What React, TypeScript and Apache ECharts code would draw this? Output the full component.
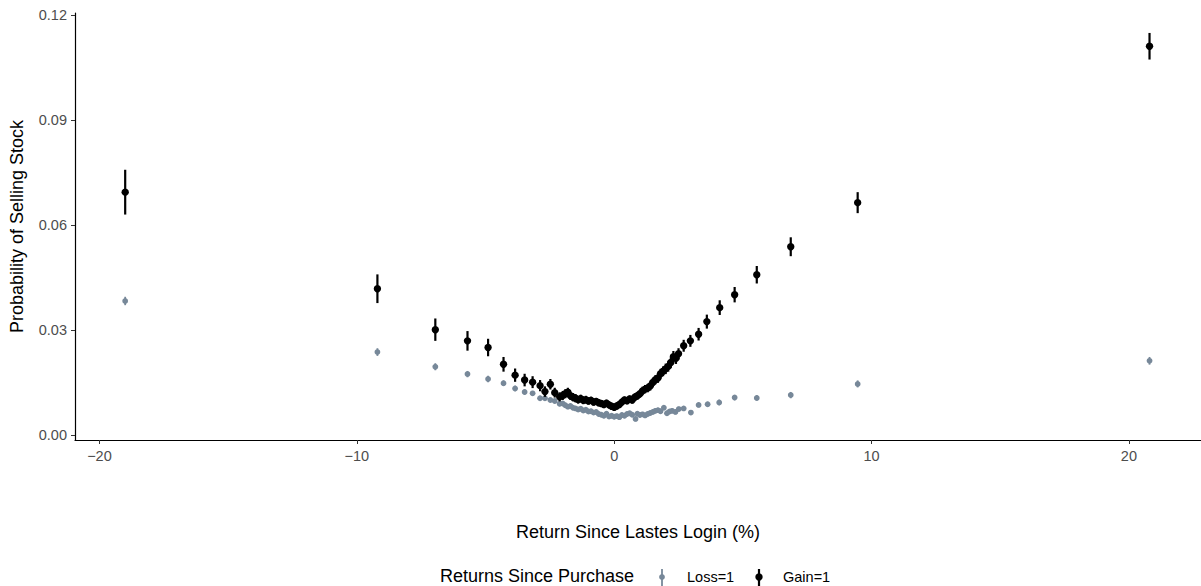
import React, { useEffect, useRef } from "react";
import * as echarts from "echarts";

// Gain=1 series: return since last login (%), probability of selling, half-width of error bar
const gainX = [-19.0, -9.2, -6.95, -5.7, -4.9, -4.3, -3.85, -3.48, -3.17, -2.88, -2.69, -2.48, -2.31, -2.12,
  -2.0, -1.9, -1.8, -1.7, -1.6, -1.5, -1.4, -1.3, -1.2, -1.1, -1.0, -0.9, -0.8, -0.7, -0.6, -0.5, -0.4, -0.3, -0.2, -0.1,
  0.0, 0.1, 0.2, 0.3, 0.4, 0.5, 0.6, 0.7, 0.8, 0.9, 1.0, 1.1, 1.2, 1.3, 1.4, 1.5, 1.6, 1.7, 1.8, 1.9, 2.0, 2.1, 2.2, 2.3, 2.4, 2.5,
  2.7, 2.96, 3.28, 3.6, 4.1, 4.68, 5.54, 6.86, 9.46, 20.8];
const gainY = [0.0694, 0.0418, 0.0301, 0.0269, 0.0250, 0.0202, 0.0171, 0.0157, 0.0151, 0.0141, 0.0124, 0.0145, 0.0121, 0.0109,
  0.0113, 0.0118, 0.0122, 0.0112, 0.0108, 0.0105, 0.0101, 0.0104, 0.0099, 0.0101, 0.0097, 0.0099, 0.0094, 0.0096, 0.0092, 0.0090, 0.0087, 0.0091, 0.0086, 0.0082,
  0.0079, 0.0083, 0.0087, 0.0094, 0.0100, 0.0098, 0.0103, 0.0100, 0.0108, 0.0112, 0.0118, 0.0126, 0.0131, 0.0134, 0.0140, 0.0150, 0.0158, 0.0163, 0.0175, 0.0182, 0.0189, 0.0196, 0.0207, 0.0224, 0.0219, 0.0232,
  0.0255, 0.0269, 0.0288, 0.0324, 0.0364, 0.0401, 0.0458, 0.0538, 0.0664, 0.1111];
const gainErr = [0.0064, 0.0041, 0.0032, 0.0028, 0.0025, 0.0021, 0.0019, 0.0018, 0.0017, 0.0016, 0.0015, 0.0015, 0.0014, 0.0013,
  0.0013, 0.0013, 0.0013, 0.0012, 0.0012, 0.0012, 0.0011, 0.0011, 0.0011, 0.0011, 0.0010, 0.0010, 0.0010, 0.0010, 0.0010, 0.0010, 0.0010, 0.0010, 0.0010, 0.0010,
  0.0010, 0.0010, 0.0010, 0.0010, 0.0010, 0.0010, 0.0010, 0.0010, 0.0011, 0.0011, 0.0011, 0.0012, 0.0012, 0.0012, 0.0013, 0.0013, 0.0013, 0.0014, 0.0014, 0.0014, 0.0015, 0.0015, 0.0015, 0.0016, 0.0016, 0.0016,
  0.0017, 0.0017, 0.0018, 0.0020, 0.0021, 0.0022, 0.0025, 0.0027, 0.0030, 0.0038];

// Loss=1 series
const lossX = [-19.0, -9.2, -6.95, -5.7, -4.9, -4.3, -3.85, -3.48, -3.17, -2.88, -2.69, -2.48, -2.31, -2.12,
  -2.0, -1.9, -1.8, -1.7, -1.6, -1.5, -1.4, -1.3, -1.2, -1.1, -1.0, -0.9, -0.8, -0.7, -0.6, -0.5, -0.4, -0.3, -0.2, -0.1,
  0.0, 0.1, 0.2, 0.3, 0.4, 0.5, 0.6, 0.7, 0.83, 0.9, 1.0, 1.1, 1.2, 1.3, 1.4, 1.5, 1.6, 1.7, 1.8, 1.93, 2.05, 2.15, 2.25, 2.38, 2.51,
  2.7, 2.98, 3.28, 3.63, 4.08, 4.68, 5.54, 6.86, 9.46, 20.8];
const lossY = [0.0383, 0.0237, 0.0195, 0.0174, 0.0160, 0.0148, 0.0133, 0.0123, 0.0119, 0.0105, 0.0105, 0.0100, 0.0097, 0.0089,
  0.0090, 0.0085, 0.0081, 0.0083, 0.0078, 0.0076, 0.0073, 0.0075, 0.0070, 0.0072, 0.0067, 0.0068, 0.0064, 0.0066, 0.0060, 0.0058, 0.0055, 0.0061, 0.0053, 0.0055,
  0.0052, 0.0054, 0.0051, 0.0057, 0.0055, 0.0060, 0.0062, 0.0058, 0.0046, 0.0061, 0.0057, 0.0059, 0.0056, 0.0060, 0.0063, 0.0066, 0.0069, 0.0071, 0.0068, 0.0078, 0.0062, 0.0067, 0.0069, 0.0066, 0.0074,
  0.0076, 0.0064, 0.0086, 0.0088, 0.0093, 0.0107, 0.0106, 0.0114, 0.0146, 0.0212];
const lossErr = [0.0012, 0.0011, 0.0010, 0.0009, 0.0009, 0.0008, 0.0008, 0.0008, 0.0007, 0.0007, 0.0007, 0.0007, 0.0007, 0.0007,
  0.0007, 0.0007, 0.0007, 0.0007, 0.0007, 0.0007, 0.0007, 0.0007, 0.0007, 0.0007, 0.0007, 0.0007, 0.0007, 0.0007, 0.0007, 0.0007, 0.0007, 0.0007, 0.0007, 0.0007,
  0.0007, 0.0007, 0.0007, 0.0007, 0.0007, 0.0007, 0.0007, 0.0007, 0.0007, 0.0007, 0.0007, 0.0007, 0.0007, 0.0007, 0.0007, 0.0007, 0.0007, 0.0007, 0.0007, 0.0007, 0.0007, 0.0007, 0.0007, 0.0007, 0.0007,
  0.0007, 0.0007, 0.0007, 0.0007, 0.0008, 0.0008, 0.0008, 0.0009, 0.0010, 0.0011];

const xTicks = [-20, -10, 0, 10, 20];
const yTicks = [0, 0.03, 0.06, 0.09, 0.12];

const FONT = "'Liberation Sans', Arial, Helvetica, sans-serif";
const LOSS_COLOR = "#778899";
const GAIN_COLOR = "#000000";

function rangeSeries(name: string, xs: number[], ys: number[], es: number[], color: string, r: number, lw: number) {
  const data = xs.map((x, i) => [x, ys[i], es[i]]);
  return {
    name,
    type: "custom",
    data,
    renderItem: (params: any, api: any) => {
      const x = api.value(0);
      const y = api.value(1);
      const e = api.value(2);
      const p = api.coord([x, y]);
      const top = api.coord([x, y + e]);
      const bot = api.coord([x, y - e]);
      return {
        type: "group",
        children: [
          {
            type: "line",
            shape: { x1: p[0], y1: top[1], x2: p[0], y2: bot[1] },
            style: { stroke: color, lineWidth: lw },
          },
          {
            type: "circle",
            shape: { cx: p[0], cy: p[1], r },
            style: { fill: color },
          },
        ],
      };
    },
  };
}

export default function App() {
  const ref = useRef<HTMLDivElement>(null);
  useEffect(() => {
    if (!ref.current) return;
    const chart = echarts.init(ref.current, undefined, { renderer: "svg" });
    const tickLabel = { color: "#4D4D4D", fontSize: 14.5, fontFamily: FONT };
    chart.setOption({
      animation: false,
      backgroundColor: "#ffffff",
      grid: { left: 70, right: 0, top: 13, bottom: 146, containLabel: false },
      xAxis: {
        type: "value",
        min: -20.95,
        max: 22.8,
        name: "Return Since Lastes Login (%)",
        nameLocation: "middle",
        nameGap: 83,
        nameTextStyle: { color: "#000", fontSize: 18, fontFamily: FONT },
        axisLine: { show: true, onZero: false, lineStyle: { color: "#000", width: 1.2 } },
        axisTick: { show: true, length: 4, lineStyle: { color: "#333" }, customValues: xTicks },
        axisLabel: {
          ...tickLabel,
          margin: 8,
          customValues: xTicks,
          formatter: (v: number) => (v < 0 ? "\u2212" + Math.abs(v) : String(v)),
        },
        splitLine: { show: false },
      },
      yAxis: {
        type: "value",
        min: -0.00143,
        max: 0.1206,
        name: "Probability of Selling Stock",
        nameLocation: "middle",
        nameRotate: 90,
        nameGap: 49,
        nameTextStyle: { color: "#000", fontSize: 18, fontFamily: FONT },
        axisLine: { show: true, onZero: false, lineStyle: { color: "#000", width: 1.2 } },
        axisTick: { show: true, length: 4, lineStyle: { color: "#333" }, customValues: yTicks },
        axisLabel: {
          ...tickLabel,
          margin: 8,
          customValues: yTicks,
          formatter: (v: number) => v.toFixed(2),
        },
        splitLine: { show: false },
      },
      series: [
        rangeSeries("Loss=1", lossX, lossY, lossErr, LOSS_COLOR, 2.9, 1.8),
        rangeSeries("Gain=1", gainX, gainY, gainErr, GAIN_COLOR, 3.7, 2.2),
      ],
      graphic: [
        {
          type: "text",
          left: 440,
          top: 567,
          style: { text: "Returns Since Purchase", fill: "#000", fontSize: 18, fontFamily: FONT },
        },
        { type: "line", shape: { x1: 662, y1: 569, x2: 662, y2: 586 }, style: { stroke: LOSS_COLOR, lineWidth: 1.8 } },
        { type: "circle", shape: { cx: 662, cy: 577, r: 2.9 }, style: { fill: LOSS_COLOR } },
        {
          type: "text",
          left: 687,
          top: 569,
          style: { text: "Loss=1", fill: "#000", fontSize: 14.5, fontFamily: FONT },
        },
        { type: "line", shape: { x1: 759, y1: 569, x2: 759, y2: 586 }, style: { stroke: GAIN_COLOR, lineWidth: 2.2 } },
        { type: "circle", shape: { cx: 759, cy: 577, r: 3.7 }, style: { fill: GAIN_COLOR } },
        {
          type: "text",
          left: 783,
          top: 569,
          style: { text: "Gain=1", fill: "#000", fontSize: 14.5, fontFamily: FONT },
        },
      ],
    });
    return () => chart.dispose();
  }, []);
  return (
    <div
      ref={ref}
      style={{ position: "absolute", left: 0, top: 0, width: 1201, height: 586, background: "#fff" }}
    />
  );
}
